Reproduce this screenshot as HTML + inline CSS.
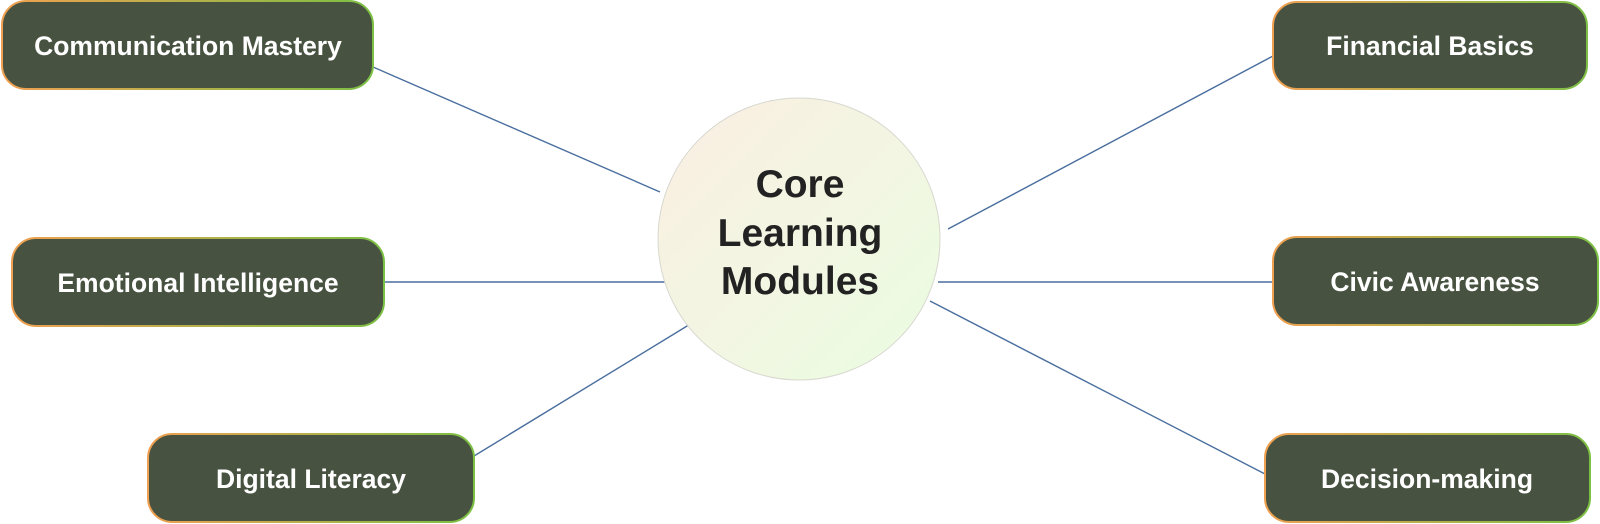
<!DOCTYPE html>
<html><head><meta charset="utf-8"><style>
html,body{margin:0;padding:0;background:#fff;}
svg{display:block;}
text{font-family:"Liberation Sans",sans-serif;}
</style></head><body>
<svg width="1600" height="524" viewBox="0 0 1600 524" xmlns="http://www.w3.org/2000/svg">
<defs>
<linearGradient id="bd" x1="0" y1="0" x2="1" y2="0">
<stop offset="0" stop-color="#f0a050"/><stop offset="1" stop-color="#7cc043"/>
</linearGradient>
<linearGradient id="cf" x1="0" y1="0" x2="1" y2="1">
<stop offset="0" stop-color="#fbeee2"/><stop offset="1" stop-color="#eafde2"/>
</linearGradient>
</defs>
<g stroke="#4a6e9e" stroke-width="1.4">
<line x1="373" y1="67" x2="660" y2="192"/>
<line x1="384" y1="282" x2="665" y2="282"/>
<line x1="474" y1="456" x2="692" y2="323"/>
<line x1="1273" y1="56" x2="948" y2="229"/>
<line x1="1273" y1="282" x2="938" y2="282"/>
<line x1="1265" y1="474" x2="930" y2="301"/>
</g>
<circle cx="799" cy="239" r="141" fill="url(#cf)" stroke="#d8d8d0" stroke-width="1"/>
<g font-size="39" font-weight="bold" fill="#222" text-anchor="middle">
<text x="800" y="197">Core</text>
<text x="800" y="246">Learning</text>
<text x="800" y="294">Modules</text>
</g>
<g fill="#475340" stroke="url(#bd)" stroke-width="2">
<rect x="2" y="1" width="371" height="88" rx="24"/>
<rect x="12" y="238" width="372" height="88" rx="24"/>
<rect x="148" y="434" width="326" height="88" rx="24"/>
<rect x="1273" y="2" width="314" height="87" rx="24"/>
<rect x="1273" y="237" width="325" height="88" rx="24"/>
<rect x="1265" y="434" width="325" height="88" rx="24"/>
</g>
<g font-size="26.5" font-weight="bold" fill="#fff" text-anchor="middle">
<text x="188" y="55">Communication Mastery</text>
<text x="198" y="292">Emotional Intelligence</text>
<text x="311" y="488">Digital Literacy</text>
<text x="1430" y="55">Financial Basics</text>
<text x="1435" y="291">Civic Awareness</text>
<text x="1427" y="488">Decision-making</text>
</g>
</svg>
</body></html>
